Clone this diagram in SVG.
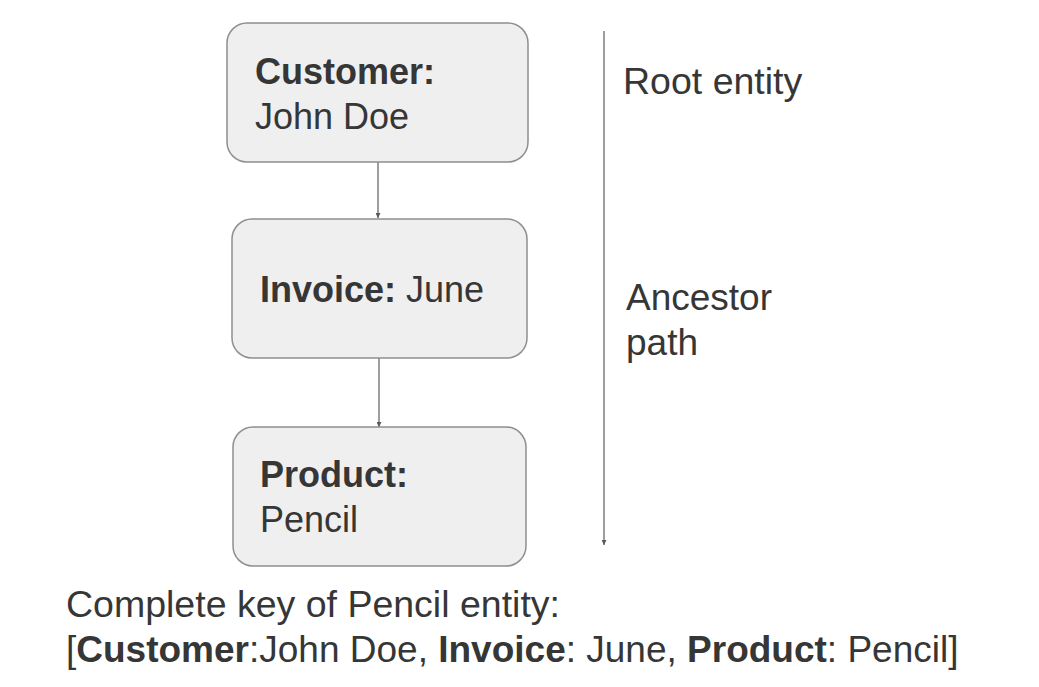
<svg xmlns="http://www.w3.org/2000/svg" width="1039" height="687" viewBox="0 0 1039 687">
<defs>
<style>
.box{fill:#efefef;stroke:#8f8f8f;stroke-width:1.5}
.t{font-family:"Liberation Sans",Arial,sans-serif;font-size:36px;fill:#363636}
.b{font-weight:bold}
.ln{stroke:#6a6a6a;stroke-width:1.3;fill:none}
</style>
<marker id="ah" viewBox="0 0 10 10" refX="10" refY="5" markerWidth="5" markerHeight="5" orient="auto" markerUnits="userSpaceOnUse">
<path d="M0,0 L10,5 L0,10 z" fill="#5a5a5a"/>
</marker>
</defs>
<rect width="1039" height="687" fill="#ffffff"/>
<g id="connectors">
<line class="ln" x1="378" y1="162" x2="378" y2="218" marker-end="url(#ah)"/>
<line class="ln" x1="379" y1="358" x2="379" y2="427" marker-end="url(#ah)"/>
<line class="ln" x1="604" y1="31" x2="604" y2="545" marker-end="url(#ah)"/>
</g>
<g id="customer">
<rect class="box" x="227" y="23" width="301" height="139" rx="20"/>
<text class="t b" x="255" y="84">Customer:</text>
<text class="t" x="255" y="129">John Doe</text>
</g>
<g id="invoice">
<rect class="box" x="232" y="219" width="295" height="139" rx="20"/>
<text class="t" x="260" y="302"><tspan class="b">Invoice:</tspan> June</text>
</g>
<g id="product">
<rect class="box" x="233" y="427" width="293" height="139" rx="20"/>
<text class="t b" x="260" y="487">Product:</text>
<text class="t" x="260" y="532">Pencil</text>
</g>
<g id="labels">
<text class="t" x="623" y="94" style="font-size:37.5px">Root entity</text>
<text class="t" x="626" y="310" style="font-size:37px">Ancestor</text>
<text class="t" x="626" y="355" style="font-size:37px">path</text>
<text class="t" x="66" y="617" style="font-size:37.5px">Complete key of Pencil entity:</text>
<text class="t" x="66" y="662" style="font-size:37px">[<tspan class="b">Customer</tspan>:John Doe, <tspan class="b">Invoice</tspan>: June, <tspan class="b">Product</tspan>: Pencil]</text>
</g>
</svg>
